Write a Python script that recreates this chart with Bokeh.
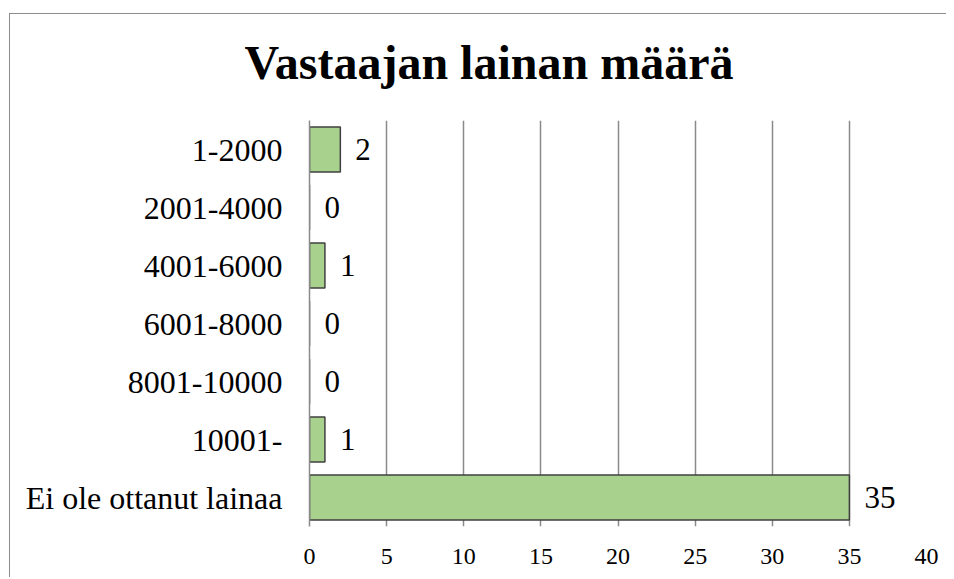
from bokeh.plotting import figure
from bokeh.models import ColumnDataSource, FactorRange, FixedTicker, Title
from bokeh.core.properties import value
from bokeh.embed import file_html
from bokeh.resources import INLINE

# ---- data ----
categories = ["1-2000", "2001-4000", "4001-6000", "6001-8000",
              "8001-10000", "10001-", "Ei ole ottanut lainaa"]
counts = [2, 0, 1, 0, 0, 1, 35]
x_ticks = [0, 5, 10, 15, 20, 25, 30, 35, 40]
title_text = "Vastaajan lainan määrä"

SERIF = "Times New Roman"
GRID = "#8a8a8a"
EDGE = "#8c8c8c"

src = ColumnDataSource(dict(cat=categories, n=counts, lab=[str(v) for v in counts]))

p = figure(
    y_range=FactorRange(*reversed(categories)),
    x_range=(0, 40),
    width=946, height=577,
    min_border_left=309, min_border_right=20,
    min_border_top=120, min_border_bottom=51,
    output_backend="svg", toolbar_location=None,
    styles={
        "background-color": "white",
        "background-image": f"linear-gradient({EDGE},{EDGE}), linear-gradient({EDGE},{EDGE})",
        "background-position": "9px 13px, 9px 13px",
        "background-size": "100% 1px, 1px 100%",
        "background-repeat": "no-repeat",
    },
)
p.outline_line_color = None
p.background_fill_color = "white"
p.border_fill_color = None

p.title = Title(text=title_text, align="left", offset=-65, standoff=64,
                text_font=SERIF, text_font_size="48px", text_font_style="bold",
                text_color="black")

p.hbar(y="cat", right="n", left=0, height=0.78, source=src,
       fill_color="#a9d18e", line_color="#404040", line_width=1.5)

p.text(x="n", y="cat", text="lab", source=src, x_offset=15,
       text_align="left", text_baseline="middle",
       text_font=value(SERIF), text_font_size="31px", text_color="black")

# x axis
p.xaxis.ticker = FixedTicker(ticks=x_ticks)
p.xaxis.axis_line_color = None
p.xaxis.major_tick_line_color = None
p.xaxis.minor_tick_line_color = None
p.xaxis.major_tick_out = 0
p.xaxis.major_label_standoff = 22
p.xaxis.major_label_text_font = SERIF
p.xaxis.major_label_text_font_size = "24px"
p.xaxis.major_label_text_color = "black"

# y axis
p.yaxis.axis_line_color = GRID
p.yaxis.axis_line_width = 1.5
p.yaxis.major_tick_line_color = None
p.yaxis.minor_tick_line_color = None
p.yaxis.major_tick_out = 0
p.yaxis.major_label_standoff = 27
p.yaxis.major_label_text_font = SERIF
p.yaxis.major_label_text_font_size = "32px"
p.yaxis.major_label_text_color = "black"

p.xgrid.grid_line_color = GRID
p.xgrid.grid_line_width = 1.5
p.ygrid.grid_line_color = None

open("out.html", "w").write(file_html(p, INLINE))
